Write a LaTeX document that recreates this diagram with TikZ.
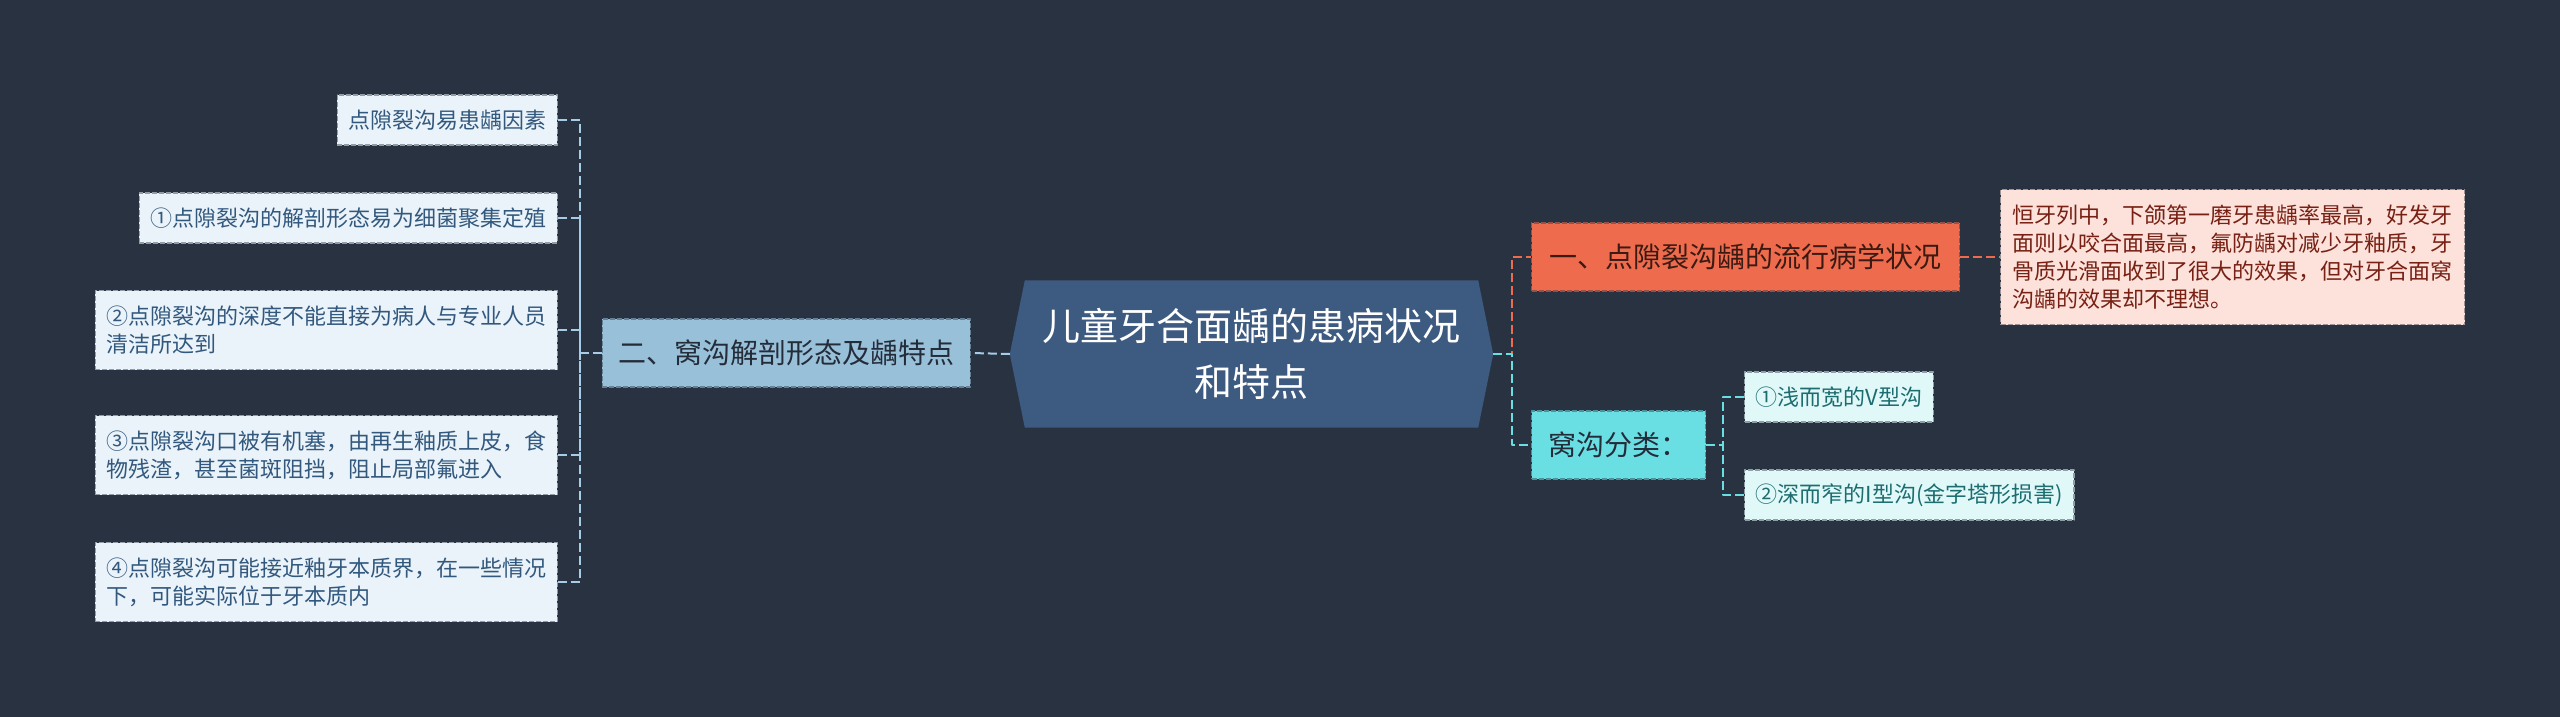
\documentclass[tikz,border=0pt]{standalone}
\usepackage{fontspec}
\setmainfont{Noto Sans CJK SC}
\usetikzlibrary{positioning}
\pgfdeclarelayer{background}
\pgfsetlayers{background,main}
\definecolor{bgNavy}{RGB}{41,50,65}
\definecolor{rootBlue}{RGB}{61,90,128}
\definecolor{anatomyBlue}{RGB}{152,193,217}
\definecolor{factorFill}{RGB}{234,243,249}
\definecolor{factorText}{RGB}{50,88,126}
\definecolor{lineBlue}{RGB}{166,205,232}
\definecolor{epiCoral}{RGB}{238,108,77}
\definecolor{epiFill}{RGB}{252,226,219}
\definecolor{epiText}{RGB}{120,32,20}
\definecolor{epiDark}{RGB}{58,26,18}
\definecolor{grooveCyan}{RGB}{106,223,227}
\definecolor{grooveFill}{RGB}{224,248,248}
\definecolor{grooveText}{RGB}{28,108,112}
\definecolor{darkText}{RGB}{36,44,58}

\begin{document}
\begin{tikzpicture}[x=1pt,y=-1pt,line join=round,
  box/.style={rectangle,line width=1.2pt,dash pattern=on 5pt off 2pt,
    inner ysep=2pt,align=left},
  small/.style={box,inner xsep=11pt,minimum height=50pt,
    font=\fontsize{22pt}{28pt}\selectfont},
  large/.style={box,inner xsep=17pt,minimum height=68pt,
    font=\fontsize{28pt}{34pt}\selectfont,text=darkText},
  factor/.style={small,fill=factorFill,draw=factorFill!55!bgNavy,text=factorText},
  note/.style={small,fill=epiFill,draw=epiFill!55!bgNavy,text=epiText,inner xsep=12pt},
  kind/.style={small,fill=grooveFill,draw=grooveFill!55!bgNavy,text=grooveText},
  link/.style={line width=2pt,dash pattern=on 9pt off 4pt}]

% fixed canvas, 2560 x 717
\useasboundingbox (0,0) rectangle (2560,717);

% centre topic
\node[minimum width=483pt,minimum height=147pt,align=center,text=white,
  font=\fontsize{38pt}{56pt}\selectfont] (root) at (1251.5,354)
  {儿童牙合面龋的患病状况\\和特点};

% left: anatomy branch and its factors
\node[large,fill=anatomyBlue,draw=anatomyBlue!55!bgNavy,inner xsep=16pt,anchor=east]
  (anatomy) at (971,353) {二、窝沟解剖形态及龋特点};

\node[factor,anchor=east] (factor0) at (558,120) {点隙裂沟易患龋因素};
\node[factor,anchor=east] (factor1) at (558,218) {①点隙裂沟的解剖形态易为细菌聚集定殖};
\node[factor,anchor=east,minimum height=79pt] (factor2) at (558,330)
  {②点隙裂沟的深度不能直接为病人与专业人员\\清洁所达到};
\node[factor,anchor=east,minimum height=79pt] (factor3) at (558,455)
  {③点隙裂沟口被有机塞，由再生釉质上皮，食\\物残渣，甚至菌斑阻挡，阻止局部氟进入};
\node[factor,anchor=east,minimum height=79pt] (factor4) at (558,582)
  {④点隙裂沟可能接近釉牙本质界，在一些情况\\下，可能实际位于牙本质内};

% right: epidemiology branch
\node[large,fill=epiCoral,draw=epiCoral!55!bgNavy,inner xsep=18pt,anchor=west,
  text=epiDark] (epidemic) at (1531,257)
  {一、点隙裂沟龋的流行病学状况};
\node[note,anchor=west,minimum height=135pt] (epiNote) at (2000,257)
  {恒牙列中，下颌第一磨牙患龋率最高，好发牙\\面则以咬合面最高，氟防龋对减少牙釉质，牙\\骨质光滑面收到了很大的效果，但对牙合面窝\\沟龋的效果却不理想。};

% right: groove types
\node[large,fill=grooveCyan,draw=grooveCyan!55!bgNavy,anchor=west] (groove) at (1531,445)
  {窝沟分类：};
\node[kind,anchor=west] (grooveV) at (1744,397) {①浅而宽的V型沟};
\node[kind,anchor=west] (grooveI) at (1744,495) {②深而窄的I型沟(金字塔形损害)};

% junction points of the connectors
\coordinate (leftJoin) at (580,353);
\coordinate (rightJoin) at (1512,354);
\coordinate (grooveJoin) at (1723,445);

% connectors
\draw[link,lineBlue] (root.west) -- (anatomy.east);
\draw[link,lineBlue] (anatomy.west) -- (leftJoin);
\foreach \i in {0,...,4}
  \draw[link,lineBlue] (factor\i.east) -| (leftJoin);

\draw[link,epiCoral] (root.east) -- (rightJoin) |- (epidemic.west);
\draw[link,grooveCyan] (root.east) -- (rightJoin) |- (groove.west);
\draw[link,epiCoral] (epidemic.east) -- (epiNote.west);
\draw[link,grooveCyan] (groove.east) -- (grooveJoin);
\draw[link,grooveCyan] (grooveV.west) -| (grooveJoin);
\draw[link,grooveCyan] (grooveI.west) -| (grooveJoin);

% backdrop and hexagon of the centre topic
\begin{pgfonlayer}{background}
  \fill[bgNavy] (0,0) rectangle (2560,717);
  \fill[rootBlue] (root.west) -- ([xshift=15pt]root.north west)
    -- ([xshift=-15pt]root.north east) -- (root.east)
    -- ([xshift=-15pt]root.south east) -- ([xshift=15pt]root.south west) -- cycle;
\end{pgfonlayer}

\end{tikzpicture}
\end{document}
